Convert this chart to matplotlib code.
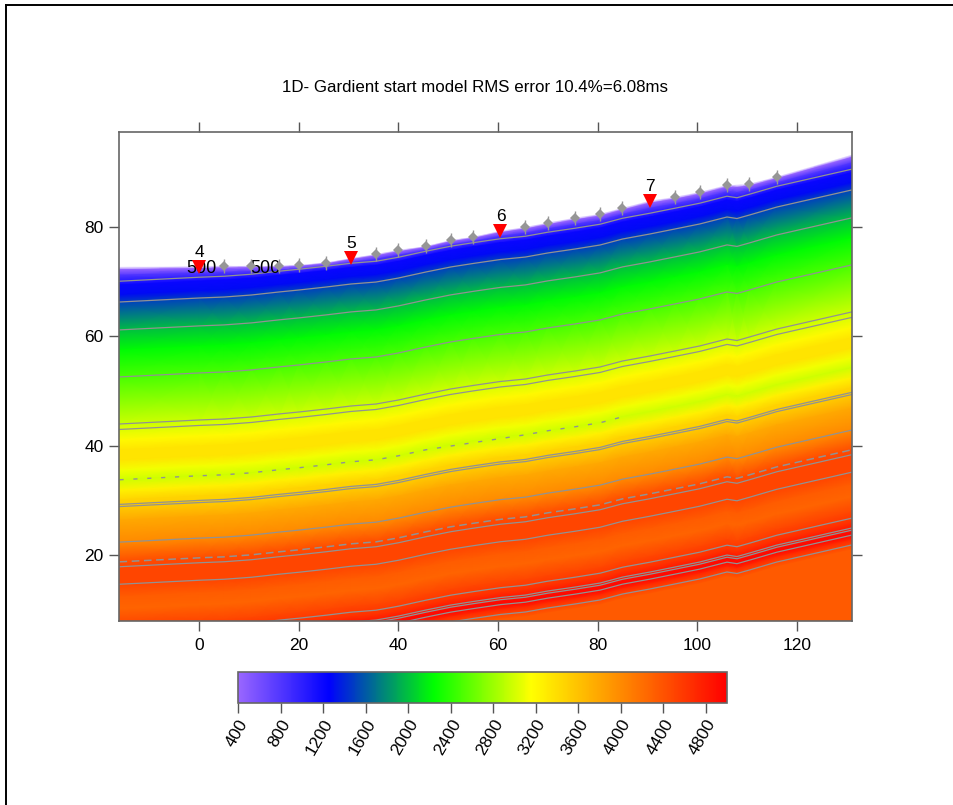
import numpy as np
import matplotlib
matplotlib.use("Agg")
import matplotlib.pyplot as plt
from matplotlib.colors import LinearSegmentedColormap
from matplotlib.lines import Line2D

plt.rcParams['font.family'] = ['Liberation Sans', 'DejaVu Sans']

# stations along the line (m)
station_x = [-16, 0, 5, 10.5, 16, 20, 25.5, 30.5, 35.5, 40, 45.5, 50.5, 55, 60.5, 65.5, 70, 75.5, 80.5,
             85, 90.5, 95.5, 100.5, 106, 108, 110.5, 116, 131]
# ground surface at the stations
surface_z = [72.7, 72.8, 72.9, 72.9, 72.9, 73.05, 73.5, 74.3, 75.05, 75.8, 76.5, 77.6, 78.2, 79.3, 80.0, 80.8,
             81.7, 82.4, 83.5, 84.8, 85.5, 86.4, 87.7, 87.7, 87.9, 89.2, 93.2]
# smoother datum the velocity layers follow below the first metres
datum_z = [72.69, 73.42, 73.60, 73.97, 74.52, 74.88, 75.43, 75.98, 76.34, 77.07, 78.17, 79.09, 79.73, 80.46,
           80.91, 81.65, 82.38, 83.11, 84.2, 85.12, 86.03, 86.95, 88.23, 87.95, 88.59, 90.05, 93.16]

# velocity (m/s) against depth below the datum (m)
depths = [0, 0.5, 1.5, 3.3, 5.1, 6.4, 11.7, 15.2, 20.1, 29.2, 31.6, 33.5, 35.3, 37.1, 38.9, 40.8, 42.6, 43.5,
          46.3, 50.3, 53.9, 54.8, 58.0, 60.3, 62.5, 65.4, 67.3, 68.6, 69.5, 70.4, 71.3, 72.2, 86.0]
velocities = [300, 420, 800, 1200, 1290, 1500, 2000, 2230, 2500, 3000, 3200, 3350, 3350, 3120, 2980, 3250, 3480, 3500,
              3780, 4000, 4450, 4500, 4500, 4330, 4280, 4500, 4650, 4900, 4950, 4700, 4500, 4350, 4350]

# contour lines, given as depth below the datum (m)
solid_depths = [2.6, 6.4, 11.5, 20.1, 28.7, 29.7, 43.4, 43.8, 50.3, 54.8, 58.0, 66.4, 68.2, 68.6, 69.5, 71.3]
broken_depth_a = 38.9
broken_depth_b = 53.9

# geophones and shots
geophone_x = [5, 10.5, 16, 20, 25.5, 35.5, 40, 45.5, 50.5, 55, 65.5, 70, 75.5, 80.5, 85, 95.5, 100.5, 106, 110.5, 116]
geophone_z = [72.9, 72.9, 72.9, 73.05, 73.5, 75.05, 75.8, 76.5, 77.6, 78.2, 80.0, 80.8, 81.7, 82.4, 83.5, 85.5, 86.4,
              87.7, 87.9, 89.2]
shot_x = [0, 30.5, 60.5, 90.5]
shot_z = [72.7, 74.3, 79.3, 84.8]
shot_labels = ['4', '5', '6', '7']

label_x = [0.4, 13.3]
label_z = [72.5, 72.5]
label_text = ['500', '500']

x_ticks = [0, 20, 40, 60, 80, 100, 120]
y_ticks = [20, 40, 60, 80]
colorbar_ticks = [400, 800, 1200, 1600, 2000, 2400, 2800, 3200, 3600, 4000, 4400, 4800]

W, H = 954, 805
fig = plt.figure(figsize=(W / 100, H / 100), dpi=100)
ax = fig.add_axes([119 / W, 1 - 621 / H, 733 / W, 489 / H])
cax = fig.add_axes([238 / W, 1 - 703 / H, 489 / W, 31 / H])

colors = [(0, '#9966ff'), (0.185, '#0000ff'), (0.4, '#00ff00'), (0.6, '#ffff00'), (1, '#ff0000')]
cmap = LinearSegmentedColormap.from_list('refraction', colors, N=512)
cmap.set_under('white')

xs = np.array(station_x, dtype=float)
zs = np.array(surface_z)
zd = np.array(datum_z)
ds = np.array(depths)

# top rows hug the ground, everything deeper hangs off the datum
w = np.clip(ds / 3.5, 0, 1)[:, None]
X = np.tile(xs, (len(ds), 1))
Y = (1 - w) * zs[None, :] + w * zd[None, :] - ds[:, None]
V = np.tile(np.array(velocities, dtype=float)[:, None], (1, len(xs)))
mesh = ax.pcolormesh(X, Y, V, shading='gouraud', cmap=cmap, vmin=400, vmax=5000, zorder=1)

for d in solid_depths:
    ax.plot(xs, zd - d, color='#929292', lw=0.9, zorder=2)

# these two contours only touch the velocity extremes, so they come out broken
keep = (xs < 50) | ((xs > 65) & (xs < 90))
ax.plot(xs[keep], (zd - broken_depth_a)[keep], color='#929292', lw=1.0, ls=(0, (3, 7)), zorder=2)
ax.plot(xs, zd - broken_depth_b, color='#929292', lw=1.1, ls=(0, (5, 3)), zorder=2)

for x, z, s in zip(label_x, label_z, label_text):
    ax.text(x, z, s, fontsize=13, ha='center', va='center', color='black', zorder=3)

ax.plot(geophone_x, geophone_z, ls='none', marker='D', ms=5.2, color='#969696', mew=0, zorder=4)
ax.plot(geophone_x, geophone_z, ls='none', marker='|', ms=9.5, color='#969696', mew=1, zorder=4)
ax.plot(shot_x, shot_z, ls='none', marker='v', ms=9.5, color='red', mew=0, zorder=5)
for x, z, s in zip(shot_x, shot_z, shot_labels):
    ax.text(x, z + 2.6, s, fontsize=12.5, ha='center', va='center', color='black', zorder=6)

ax.set_xlim(-16.1, 131.1)
ax.set_ylim(7.97, 97.37)
ax.set_xticks(x_ticks)
ax.set_yticks(y_ticks)
ax.tick_params(axis='both', which='major', direction='out', length=7, width=1, color='#555555',
               top=True, right=True, labelsize=12.5)
ax.tick_params(axis='x', pad=5)
ax.tick_params(axis='y', pad=4)
for s in ax.spines.values():
    s.set_color('#666666')
    s.set_linewidth(1.2)

cb = fig.colorbar(mesh, cax=cax, orientation='horizontal', ticks=colorbar_ticks)
cb.ax.tick_params(length=7, width=1, color='#555555', labelsize=12.5, pad=3)
for t in cb.ax.get_xticklabels():
    t.set_rotation(60)
    t.set_ha('right')
    t.set_rotation_mode('anchor')
cb.outline.set_edgecolor('#666666')
cb.outline.set_linewidth(1.2)

fig.text(475 / W, 1 - 87 / H, '1D- Gardient start model RMS error 10.4%=6.08ms', fontsize=12.2,
         ha='center', va='center', color='black')

# page frame, only the top and left edges are in the picture
fig.add_artist(Line2D([6 / W, 6 / W], [0, 1 - 5 / H], color='black', lw=1.4))
fig.add_artist(Line2D([6 / W, 1], [1 - 5 / H, 1 - 5 / H], color='black', lw=1.4))

fig.savefig('out.png', dpi=100)
